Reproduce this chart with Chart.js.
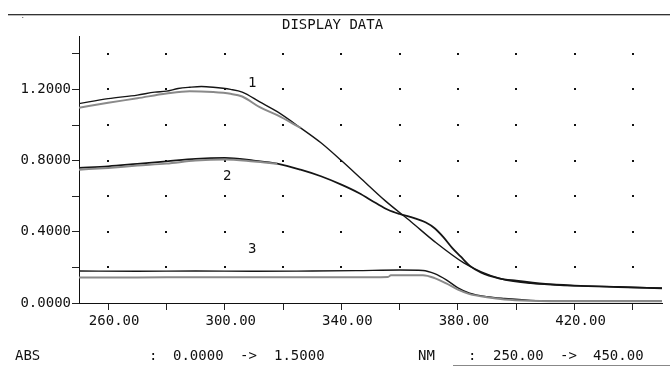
<!DOCTYPE html>
<html>
<head>
<meta charset="utf-8">
<script src="https://cdn.jsdelivr.net/npm/chart.js@4.4.1/dist/chart.umd.min.js"></script>
<style>
  html, body { margin: 0; padding: 0; background: #fff; }
  #wrap { position: relative; width: 670px; height: 367px; overflow: hidden; }
  #c { position: absolute; left: 0; top: 0; }
  .t { position: absolute; font-family: "DejaVu Sans Mono", monospace; font-size: 14px; line-height: 14px; color: #111; white-space: pre; }
  #topline { position: absolute; left: 8px; top: 14px; width: 662px; height: 1px; background: #333; border-bottom: 1px solid #bbb; }
  #botline { position: absolute; left: 453px; top: 365px; width: 217px; height: 1px; background: #888; }
</style>
</head>
<body>
<div id="wrap">
  <canvas id="c" width="670" height="367"></canvas>
  <div id="topline"></div>
  <div class="t" style="left:21px;top:9px;font-size:6px;">.</div>
  <div class="t" style="left:282px;top:17px;">DISPLAY DATA</div>
  <div class="t" style="left:248px;top:75px;">1</div>
  <div class="t" style="left:223px;top:168px;">2</div>
  <div class="t" style="left:248px;top:241px;">3</div>
  <div class="t" style="left:15px;top:348px;">ABS</div>
  <div class="t" style="left:149px;top:348px;">:</div>
  <div class="t" style="left:173px;top:348px;">0.0000</div>
  <div class="t" style="left:240px;top:348px;">-&gt;</div>
  <div class="t" style="left:274px;top:348px;">1.5000</div>
  <div class="t" style="left:418px;top:348px;">NM</div>
  <div class="t" style="left:468px;top:348px;">:</div>
  <div class="t" style="left:493px;top:348px;">250.00</div>
  <div class="t" style="left:560px;top:348px;">-&gt;</div>
  <div class="t" style="left:593px;top:348px;">450.00</div>
  <div id="botline"></div>
</div>
<script>
// wavelength (nm) / absorbance readings, three samples, two traces each
const C1_NM   = [250, 260, 270, 276, 280, 284, 288, 292, 296, 302, 306, 312, 318, 326, 333, 340, 347, 355, 364, 372, 382, 388, 395, 405, 415, 425, 435, 450];
const C1_TOP  = [1.12, 1.148, 1.168, 1.185, 1.19, 1.205, 1.212, 1.216, 1.212, 1.20, 1.185, 1.13, 1.075, 0.984, 0.90, 0.80, 0.695, 0.575, 0.455, 0.345, 0.225, 0.175, 0.135, 0.11, 0.10, 0.095, 0.09, 0.083];
const C1G_NM  = [250, 260, 270, 280, 288, 296, 302, 306, 312, 318, 326];
const C1_LOW  = [1.097, 1.125, 1.15, 1.177, 1.19, 1.185, 1.175, 1.16, 1.10, 1.055, 0.984];

const C2_NM   = [250, 260, 270, 280, 290, 300, 310, 318, 326, 333, 340, 346, 352, 356, 360, 365, 369, 372, 375, 378, 381, 384, 388, 394, 400, 410, 420, 435, 450];
const C2_TOP  = [0.759, 0.768, 0.782, 0.796, 0.81, 0.815, 0.80, 0.783, 0.749, 0.712, 0.665, 0.618, 0.56, 0.524, 0.50, 0.477, 0.452, 0.42, 0.37, 0.31, 0.26, 0.21, 0.17, 0.139, 0.125, 0.107, 0.098, 0.09, 0.083];
const C2G_NM  = [250, 260, 270, 280, 290, 300, 310, 318];
const C2_LOW  = [0.749, 0.759, 0.772, 0.783, 0.80, 0.806, 0.795, 0.783];

const C3_NM   = [250, 270, 290, 310, 330, 345, 360, 368, 372, 376, 380, 384, 390, 396, 405, 420, 450];
const C3_TOP  = [0.18, 0.178, 0.18, 0.178, 0.18, 0.182, 0.185, 0.183, 0.165, 0.13, 0.085, 0.055, 0.035, 0.025, 0.015, 0.01, 0.01];
const C3G_NM  = [250, 270, 290, 310, 330, 350, 356, 357, 368, 372, 376, 380, 384, 390, 396, 405, 420, 450];
const C3_LOW  = [0.143, 0.143, 0.145, 0.145, 0.145, 0.145, 0.146, 0.156, 0.156, 0.14, 0.11, 0.075, 0.05, 0.032, 0.02, 0.013, 0.01, 0.01];

// axes
const X_MIN = 250, X_MAX = 450, Y_MIN = 0, Y_MAX = 1.5;
const X_TICKS  = [260, 280, 300, 320, 340, 360, 380, 400, 420, 440];
const X_LABELS = [260, 300, 340, 380, 420];
const Y_TICKS  = [0, 0.2, 0.4, 0.6, 0.8, 1.0, 1.2, 1.4];
const Y_LABELS = [0, 0.4, 0.8, 1.2];

const FONT = { family: "DejaVu Sans Mono", size: 14 };

function pts(xs, ys) { return xs.map((x, i) => ({ x: x, y: ys[i] })); }

function trace(xs, ys, color, w) {
  return {
    data: pts(xs, ys),
    borderColor: color,
    borderWidth: w,
    pointRadius: 0,
    cubicInterpolationMode: "monotone",
    fill: false
  };
}

/* dots at every tick crossing */
const gridDots = {
  id: "gridDots",
  beforeDatasetsDraw(chart) {
    const { ctx, scales: { x, y } } = chart;
    ctx.save();
    ctx.fillStyle = "#111";
    x.ticks.forEach(tx => {
      y.ticks.forEach(ty => {
        if (ty.value <= 0) return;
        const px = Math.round(x.getPixelForValue(tx.value));
        const py = Math.round(y.getPixelForValue(ty.value));
        ctx.fillRect(px - 1, py - 1, 2, 2);
      });
    });
    ctx.restore();
  }
};

const hasLabel = (list, v) => list.some(l => Math.abs(l - v) < 1e-6);

new Chart(document.getElementById("c"), {
  type: "line",
  data: {
    datasets: [
      trace(C1G_NM, C1_LOW, "#8a8a8a", 2),
      trace(C2G_NM, C2_LOW, "#8a8a8a", 2),
      trace(C3G_NM, C3_LOW, "#8a8a8a", 2),
      trace(C1_NM, C1_TOP, "#151515", 1.4),
      trace(C2_NM, C2_TOP, "#151515", 1.8),
      trace(C3_NM, C3_TOP, "#151515", 1.4)
    ]
  },
  options: {
    responsive: false,
    animation: false,
    layout: { padding: { top: 36, right: 8, left: 0, bottom: 0 } },
    plugins: { legend: { display: false }, tooltip: { enabled: false } },
    scales: {
      x: {
        type: "linear",
        min: X_MIN, max: X_MAX,
        afterFit: s => { s.height = 64; },
        afterBuildTicks: s => { s.ticks = X_TICKS.map(v => ({ value: v })); },
        ticks: {
          autoSkip: false,
          maxRotation: 0,
          labelOffset: 6,
          padding: 3,
          color: "#111",
          font: FONT,
          callback: v => (hasLabel(X_LABELS, v) ? v.toFixed(2) : "")
        },
        grid: { drawOnChartArea: false, drawTicks: true, tickLength: 7, color: "#222" },
        border: { display: true, color: "#111", width: 1 }
      },
      y: {
        min: Y_MIN, max: Y_MAX,
        afterFit: s => { s.width = 79; },
        afterBuildTicks: s => { s.ticks = Y_TICKS.map(v => ({ value: v })); },
        ticks: {
          autoSkip: false,
          padding: 1,
          color: "#111",
          font: FONT,
          callback: v => (hasLabel(Y_LABELS, v) ? v.toFixed(4) : "")
        },
        grid: { drawOnChartArea: false, drawTicks: true, tickLength: 7, color: "#222" },
        border: { display: true, color: "#111", width: 1 }
      }
    }
  },
  plugins: [gridDots]
});
</script>
</body>
</html>
